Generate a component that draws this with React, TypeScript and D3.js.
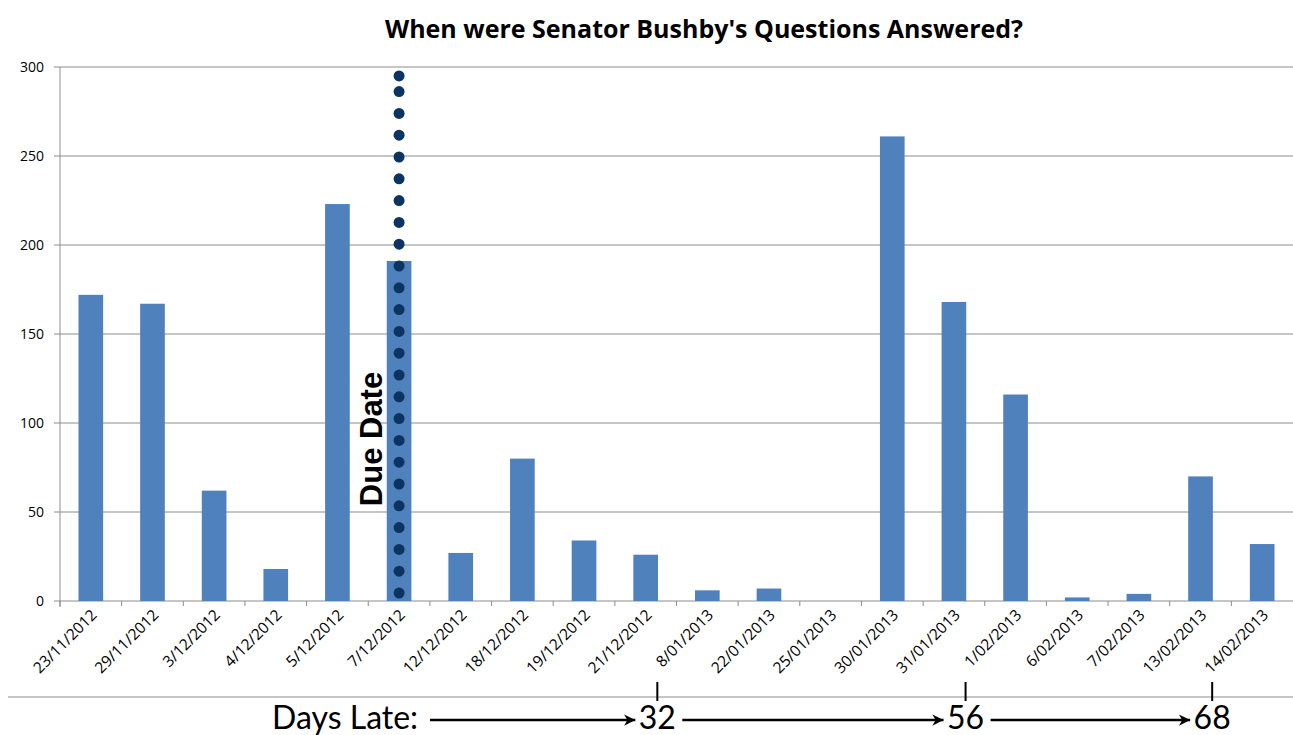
import React from 'react';
import * as d3 from 'd3';

const categories = [
  '23/11/2012', '29/11/2012', '3/12/2012', '4/12/2012', '5/12/2012', '7/12/2012',
  '12/12/2012', '18/12/2012', '19/12/2012', '21/12/2012', '8/01/2013', '22/01/2013',
  '25/01/2013', '30/01/2013', '31/01/2013', '1/02/2013', '6/02/2013', '7/02/2013',
  '13/02/2013', '14/02/2013',
];
const answered = [172, 167, 62, 18, 223, 191, 27, 80, 34, 26, 6, 7, 0, 261, 168, 116, 2, 4, 70, 32];
const yTicks = [0, 50, 100, 150, 200, 250, 300];
const dueDate = '7/12/2012';
const daysLate = [
  { date: '8/01/2013', days: 32 },
  { date: '1/02/2013', days: 56 },
  { date: '14/02/2013', days: 68 },
];

const W = 1293;
const H = 735;
const margin = { top: 67, right: 0, bottom: 134, left: 60 };
const font = '"Open Sans", Lato, sans-serif';
const bigFont = 'Lato, "Open Sans", sans-serif';

export default function App() {
  const x = d3.scaleBand<string>()
    .domain(categories)
    .range([margin.left, W - margin.right])
    .paddingInner(0.6)
    .paddingOuter(0.3);
  const step = x.step();
  const y = d3.scaleLinear().domain([0, 300]).range([H - margin.bottom, margin.top]);
  const y0 = y(0);

  // dotted due-date line
  const dueX = (x(dueDate) ?? 0) + x.bandwidth() / 2;
  const dotGap = 21.8;
  const dotBottom = y(4.5);
  const dotTop = y(295);
  const dots: number[] = [];
  for (let yy = dotBottom; yy > dotTop + 10; yy -= dotGap) dots.push(yy);
  dots.push(dotTop);

  const rowY = 720;
  const markX = (d: string) => (x(d) ?? 0) + x.bandwidth() / 2 - 50;
  const arrowStarts = [430, ...daysLate.slice(0, -1).map(d => markX(d.date) + 25)];

  return (
    <svg width={W} height={H} style={{ position: 'absolute', left: 0, top: 0, background: '#fff' }}>
      <defs>
        <marker id="arr" viewBox="0 0 10 10" refX="10" refY="5" markerWidth="6" markerHeight="4.5"
          markerUnits="strokeWidth" orient="auto">
          <path d="M0,0 L10,5 L0,10 L3,5 z" fill="#000" />
        </marker>
      </defs>
      <text x={704} y={38} textAnchor="middle" fontFamily={font} fontWeight="bold" fontSize={25}>
        When were Senator Bushby's Questions Answered?
      </text>

      {/* gridlines + y labels */}
      {yTicks.map(t => (
        <g key={t}>
          <line x1={margin.left - 6} x2={W} y1={y(t)} y2={y(t)} stroke="#8c8c8c" strokeWidth={1} />
          <text x={44} y={y(t) + 5} textAnchor="end" fontFamily={font} fontSize={14}>{t}</text>
        </g>
      ))}
      <line x1={margin.left} x2={margin.left} y1={y(300)} y2={y0 + 6} stroke="#8c8c8c" />

      {/* category ticks */}
      {categories.map((c, i) => (
        <line key={c} x1={margin.left + step * i} x2={margin.left + step * i} y1={y0} y2={y0 + 5} stroke="#8c8c8c" />
      ))}

      {/* bars */}
      {categories.map((c, i) => (
        <rect key={c} x={x(c)} y={y(answered[i])} width={x.bandwidth()} height={y0 - y(answered[i])}
          fill="#4f81bd" />
      ))}

      {/* x labels */}
      {categories.map(c => {
        const cx = (x(c) ?? 0) + x.bandwidth() / 2 + 7;
        return (
          <text key={c} transform={`translate(${cx},${y0 + 15}) rotate(-45)`} textAnchor="end"
            fontFamily={font} fontSize={15.5}>{c}</text>
        );
      })}

      {/* due date */}
      {dots.map((d, i) => (
        <circle key={i} cx={dueX} cy={d} r={5.5} fill="#0b3463" />
      ))}
      <text transform={`translate(${dueX - 17},${439}) rotate(-90)`} textAnchor="middle"
        fontFamily='"Liberation Sans", "DejaVu Sans", sans-serif' fontWeight="bold" fontSize={31}>Due Date</text>

      {/* days late row */}
      <line x1={8} x2={W} y1={697} y2={697} stroke="#8c8c8c" />
      <text x={272} y={729} fontFamily={bigFont} fontSize={32}>Days Late:</text>
      {daysLate.map((d, i) => {
        const mx = markX(d.date);
        return (
          <g key={d.date}>
            <line x1={mx} x2={mx} y1={682} y2={701} stroke="#000" strokeWidth={2} />
            <line x1={arrowStarts[i]} x2={mx - 22} y1={rowY} y2={rowY} stroke="#000" strokeWidth={2.5}
              markerEnd="url(#arr)" />
            <text x={mx} y={729} textAnchor="middle" fontFamily={bigFont} fontSize={32}>{d.days}</text>
          </g>
        );
      })}
    </svg>
  );
}
